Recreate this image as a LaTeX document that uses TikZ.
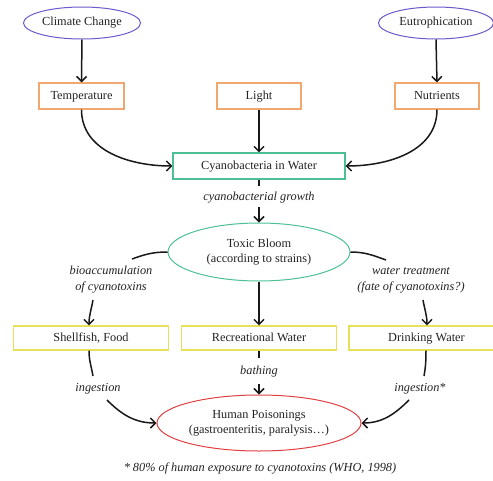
\documentclass[tikz,border=0pt]{standalone}
\usepackage{fontspec}
\setmainfont{Liberation Serif}
\usetikzlibrary{shapes.geometric,arrows.meta}
\definecolor{cpurple}{HTML}{6A5ACD}
\definecolor{corange}{HTML}{F0A870}
\definecolor{cgreen}{HTML}{4CC094}
\definecolor{cyellow}{HTML}{E6E05A}
\definecolor{cred}{HTML}{E04040}
\definecolor{ctext}{HTML}{222222}
\tikzset{
  every node/.style={font=\fontsize{12.3}{15}\selectfont, text=ctext},
  oval/.style={ellipse, draw, line width=1pt, inner sep=0pt, align=center},
  boxtext/.style={text height=8.5pt, text depth=2.5pt},
  obox/.style={rectangle, boxtext, draw=corange, line width=1.1pt, minimum height=26pt, inner sep=0pt},
  gbox/.style={rectangle, boxtext, draw=cgreen, line width=1.1pt, minimum height=26pt, inner sep=0pt},
  ybox/.style={rectangle, boxtext, draw=cyellow, line width=1.1pt, minimum height=24pt, minimum width=155pt, inner sep=0pt},
  lab/.style={font=\itshape\fontsize{12.3}{16}\selectfont, align=center, inner sep=0pt},
  conn/.style={line width=1.5pt, draw=black!90},
  arr/.style={conn, -{Straight Barb[length=5pt,width=10pt,line width=1.5pt]}},
}
\begin{document}
\begin{tikzpicture}[x=1pt,y=-1pt]
\useasboundingbox (0,0) rectangle (493,480);
% top ellipses
\node[oval, draw=cpurple, minimum width=117pt, minimum height=32pt] (cc) at (82,23) {Climate Change};
\node[oval, draw=cpurple, minimum width=115pt, minimum height=32pt] (eu) at (436,23) {Eutrophication};
% factor boxes
\node[obox, minimum width=85pt] (temp) at (81.5,96) {Temperature};
\node[obox, minimum width=84pt] (light) at (259,96) {Light};
\node[obox, minimum width=84pt] (nut) at (437,96) {Nutrients};
% cyanobacteria
\node[gbox, minimum width=172pt] (cy) at (259,166) {Cyanobacteria in Water};
% toxic bloom
\node[oval, draw=cgreen, minimum width=182pt, minimum height=58pt] (tox) at (259,252) {Toxic Bloom\\(according to strains)};
% exposure boxes
\node[ybox] (shell) at (91,338) {Shellfish, Food};
\node[ybox] (rec) at (259,338) {Recreational Water};
\node[ybox] (drink) at (426.5,338) {Drinking Water};
% human
\node[oval, draw=cred, minimum width=204pt, minimum height=56pt] (hum) at (259,423) {Human Poisonings\\(gastroenteritis, paralysis\dots)};
% labels
\node[lab] (lgrow) at (259,198) {cyanobacterial growth};
\node[lab] (lbio) at (111,280) {bioaccumulation\\of cyanotoxins};
\node[lab] (lwat) at (411,280) {water treatment\\(fate of cyanotoxins?)};
\node[lab] (lbath) at (259,372) {bathing};
\node[lab] (ling) at (98,389) {ingestion};
\node[lab] (ling2) at (420,389) {ingestion*};
\node[lab] (foot) at (260,468) {* 80\% of human exposure to cyanotoxins (WHO, 1998)};
% helper coordinates
\coordinate (g1) at (259,186);
\coordinate (g2) at (259,207);
\coordinate (b1) at (132,259);
\coordinate (b2) at (93,300);
\coordinate (w1) at (386,260);
\coordinate (w2) at (423,300);
\coordinate (r1) at (259,358);
\coordinate (r2) at (259,384);
\coordinate (i1) at (93,376);
\coordinate (i2) at (107,400);
\coordinate (j1) at (424,376);
\coordinate (j2) at (409,400);
% connectors
\draw[arr] (cc) -- (temp);
\draw[arr] (eu.south) -- (nut.north);
\draw[arr] (temp.south) to[out=-90,in=180] (cy.west);
\draw[arr] (light) -- (cy);
\draw[arr] (nut.south) to[out=-90,in=0] (cy.east);
\draw[conn] (cy.south) -- (g1);
\draw[arr] (g2) -- (tox.north);
\draw[conn] (tox.west) to[out=180,in=20] (b1);
\draw[arr] (b2) to[out=-100,in=90] (shell.north-|89,0);
\draw[conn] (tox.east) to[out=0,in=160] (w1);
\draw[arr] (w2) to[out=-80,in=90] (drink.north-|427,0);
\draw[arr] (tox.south) -- (rec.north);
\draw[conn] (rec.south) -- (r1);
\draw[arr] (r2) -- (hum.north);
\draw[conn] (shell.south-|89,0) to[out=-90,in=100] (i1);
\draw[arr] (i2) to[out=-45,in=180] (hum.west);
\draw[conn] (drink.south-|426,0) to[out=-90,in=80] (j1);
\draw[arr] (j2) to[out=-135,in=0] (hum.east);
\end{tikzpicture}
\end{document}
